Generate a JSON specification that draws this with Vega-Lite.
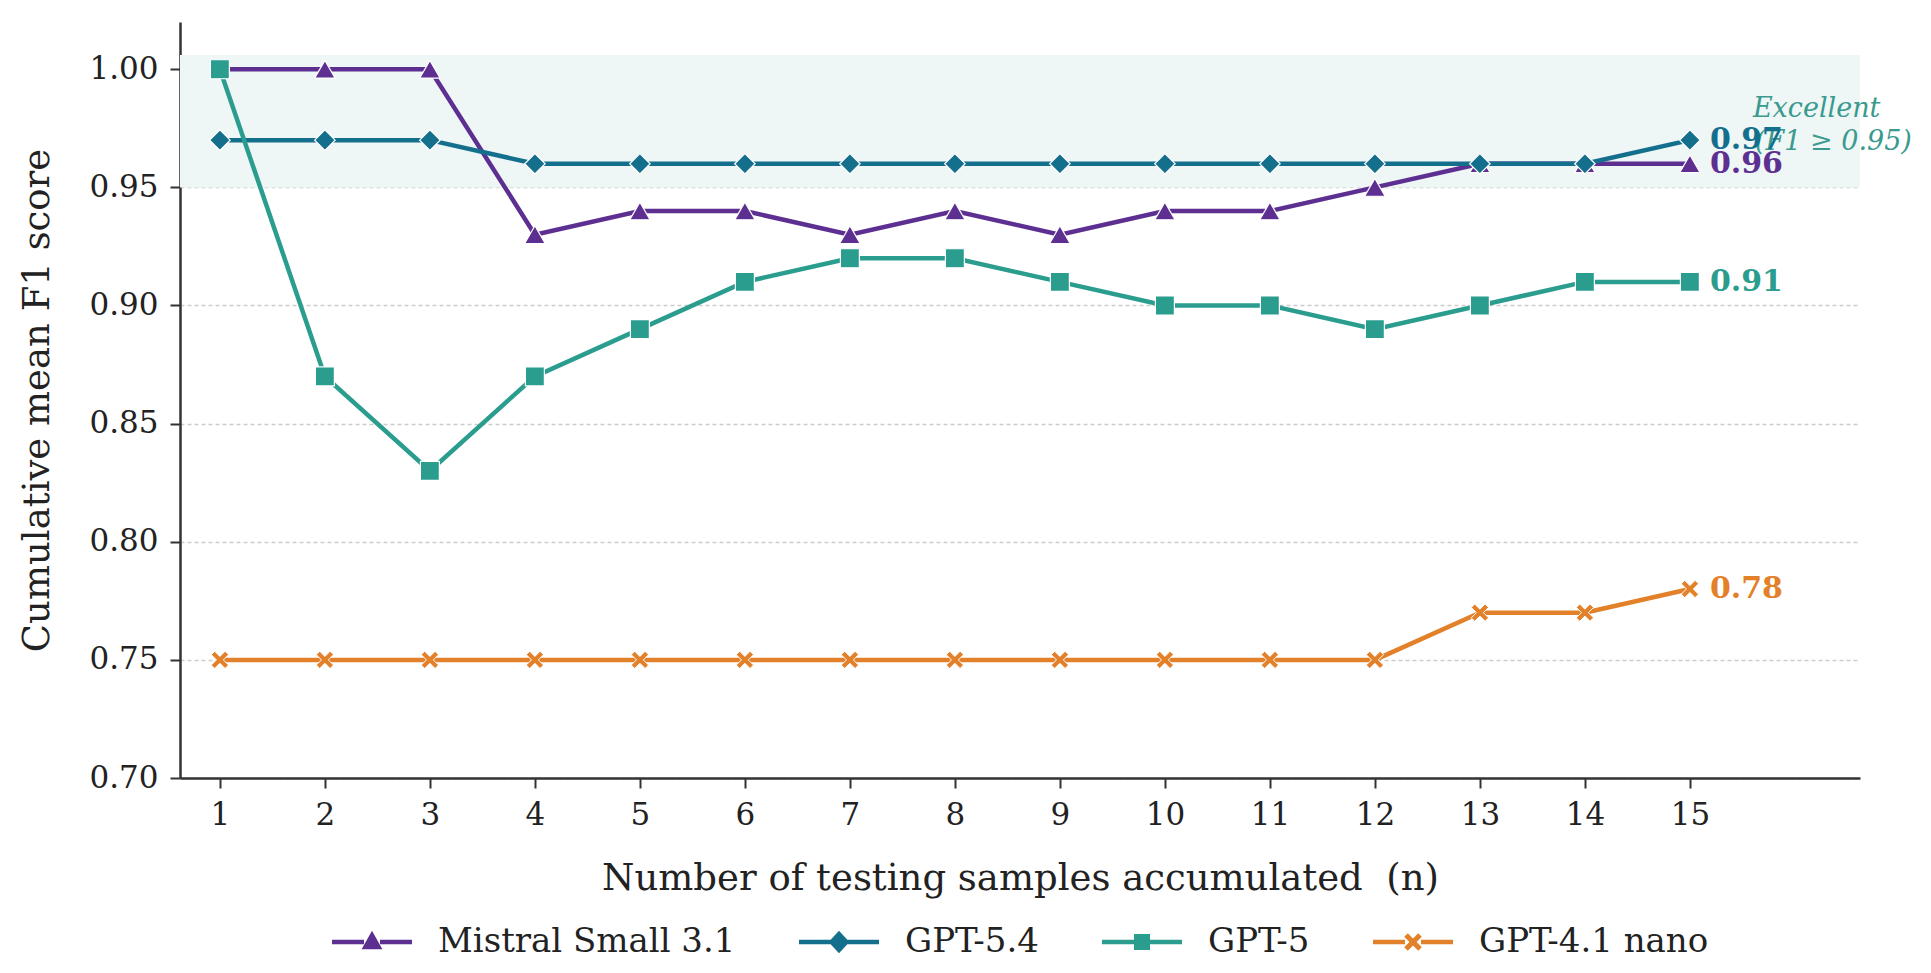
{
  "$schema": "https://vega.github.io/schema/vega-lite/v6.json",
  "width": 1680,
  "height": 756,
  "autosize": {"type": "none"},
  "padding": {"left": 180, "top": 22, "right": 71, "bottom": 195},
  "background": "white",
  "datasets": {
    "scores": [
      {"model": "Mistral Small 3.1", "n": 1, "f1": 1.00},
      {"model": "Mistral Small 3.1", "n": 2, "f1": 1.00},
      {"model": "Mistral Small 3.1", "n": 3, "f1": 1.00},
      {"model": "Mistral Small 3.1", "n": 4, "f1": 0.93},
      {"model": "Mistral Small 3.1", "n": 5, "f1": 0.94},
      {"model": "Mistral Small 3.1", "n": 6, "f1": 0.94},
      {"model": "Mistral Small 3.1", "n": 7, "f1": 0.93},
      {"model": "Mistral Small 3.1", "n": 8, "f1": 0.94},
      {"model": "Mistral Small 3.1", "n": 9, "f1": 0.93},
      {"model": "Mistral Small 3.1", "n": 10, "f1": 0.94},
      {"model": "Mistral Small 3.1", "n": 11, "f1": 0.94},
      {"model": "Mistral Small 3.1", "n": 12, "f1": 0.95},
      {"model": "Mistral Small 3.1", "n": 13, "f1": 0.96},
      {"model": "Mistral Small 3.1", "n": 14, "f1": 0.96},
      {"model": "Mistral Small 3.1", "n": 15, "f1": 0.96},
      {"model": "GPT-5.4", "n": 1, "f1": 0.97},
      {"model": "GPT-5.4", "n": 2, "f1": 0.97},
      {"model": "GPT-5.4", "n": 3, "f1": 0.97},
      {"model": "GPT-5.4", "n": 4, "f1": 0.96},
      {"model": "GPT-5.4", "n": 5, "f1": 0.96},
      {"model": "GPT-5.4", "n": 6, "f1": 0.96},
      {"model": "GPT-5.4", "n": 7, "f1": 0.96},
      {"model": "GPT-5.4", "n": 8, "f1": 0.96},
      {"model": "GPT-5.4", "n": 9, "f1": 0.96},
      {"model": "GPT-5.4", "n": 10, "f1": 0.96},
      {"model": "GPT-5.4", "n": 11, "f1": 0.96},
      {"model": "GPT-5.4", "n": 12, "f1": 0.96},
      {"model": "GPT-5.4", "n": 13, "f1": 0.96},
      {"model": "GPT-5.4", "n": 14, "f1": 0.96},
      {"model": "GPT-5.4", "n": 15, "f1": 0.97},
      {"model": "GPT-5", "n": 1, "f1": 1.00},
      {"model": "GPT-5", "n": 2, "f1": 0.87},
      {"model": "GPT-5", "n": 3, "f1": 0.83},
      {"model": "GPT-5", "n": 4, "f1": 0.87},
      {"model": "GPT-5", "n": 5, "f1": 0.89},
      {"model": "GPT-5", "n": 6, "f1": 0.91},
      {"model": "GPT-5", "n": 7, "f1": 0.92},
      {"model": "GPT-5", "n": 8, "f1": 0.92},
      {"model": "GPT-5", "n": 9, "f1": 0.91},
      {"model": "GPT-5", "n": 10, "f1": 0.90},
      {"model": "GPT-5", "n": 11, "f1": 0.90},
      {"model": "GPT-5", "n": 12, "f1": 0.89},
      {"model": "GPT-5", "n": 13, "f1": 0.90},
      {"model": "GPT-5", "n": 14, "f1": 0.91},
      {"model": "GPT-5", "n": 15, "f1": 0.91},
      {"model": "GPT-4.1 nano", "n": 1, "f1": 0.75},
      {"model": "GPT-4.1 nano", "n": 2, "f1": 0.75},
      {"model": "GPT-4.1 nano", "n": 3, "f1": 0.75},
      {"model": "GPT-4.1 nano", "n": 4, "f1": 0.75},
      {"model": "GPT-4.1 nano", "n": 5, "f1": 0.75},
      {"model": "GPT-4.1 nano", "n": 6, "f1": 0.75},
      {"model": "GPT-4.1 nano", "n": 7, "f1": 0.75},
      {"model": "GPT-4.1 nano", "n": 8, "f1": 0.75},
      {"model": "GPT-4.1 nano", "n": 9, "f1": 0.75},
      {"model": "GPT-4.1 nano", "n": 10, "f1": 0.75},
      {"model": "GPT-4.1 nano", "n": 11, "f1": 0.75},
      {"model": "GPT-4.1 nano", "n": 12, "f1": 0.75},
      {"model": "GPT-4.1 nano", "n": 13, "f1": 0.77},
      {"model": "GPT-4.1 nano", "n": 14, "f1": 0.77},
      {"model": "GPT-4.1 nano", "n": 15, "f1": 0.78}
    ],
    "band": [{"x0": 0.62, "x1": 16.62, "y0": 0.95, "y1": 1.006}],
    "note": [
      {"n": 15.6, "f1": 0.983, "label": "Excellent"},
      {"n": 15.62, "f1": 0.969, "label": "(F1 ≥ 0.95)"}
    ]
  },
  "layer": [
    {
      "data": {"name": "band"},
      "mark": {"type": "rect", "color": "#eef6f6"},
      "encoding": {
        "x": {"field": "x0", "type": "quantitative", "scale": {"domain": [0.62, 16.62], "nice": false, "zero": false}},
        "x2": {"field": "x1"},
        "y": {"field": "y0", "type": "quantitative", "scale": {"domain": [0.70, 1.02], "nice": false, "zero": false}},
        "y2": {"field": "y1"}
      }
    },
    {
      "data": {"name": "scores"},
      "mark": {"type": "line", "strokeWidth": 4.5},
      "encoding": {
        "x": {
          "field": "n",
          "type": "quantitative",
          "title": "Number of testing samples accumulated\u00a0 (n)",
          "axis": {"values": [1, 2, 3, 4, 5, 6, 7, 8, 9, 10, 11, 12, 13, 14, 15], "format": "d", "grid": false, "titlePadding": 30, "labelPadding": 12}
        },
        "y": {
          "field": "f1",
          "type": "quantitative",
          "title": "Cumulative mean F1 score",
          "axis": {"values": [0.70, 0.75, 0.80, 0.85, 0.90, 0.95, 1.00], "format": ".2f", "grid": true, "titlePadding": 32, "labelPadding": 12}
        },
        "color": {
          "field": "model",
          "type": "nominal",
          "scale": {
            "domain": ["Mistral Small 3.1", "GPT-5.4", "GPT-5", "GPT-4.1 nano"],
            "range": ["#5c2f91", "#146f8d", "#2a9d8f", "#e3812a"]
          },
          "legend": {
            "orient": "none",
            "legendX": 152,
            "legendY": 880,
            "direction": "horizontal",
            "title": null,
            "symbolSize": 6400,
            "labelFontSize": 34,
            "labelLimit": 0,
            "labelOffset": 26,
            "columnPadding": 63,
            "encode": {
              "symbols": {
                "update": {
                  "fill": {"scale": "color", "field": "value"},
                  "strokeWidth": {"value": 0},
                  "shape": {"signal": "datum.value === 'Mistral Small 3.1' ? 'M-1,-0.056H-0.2V0.056H-1Z M0.2,-0.056H1V0.056H0.2Z M0,-0.28L0.26,0.18L-0.26,0.18Z' : datum.value === 'GPT-5.4' ? 'M-1,-0.056H-0.2V0.056H-1Z M0.2,-0.056H1V0.056H0.2Z M0,-0.28L0.26,0L0,0.28L-0.26,0Z' : datum.value === 'GPT-5' ? 'M-1,-0.056H-0.2V0.056H-1Z M0.2,-0.056H1V0.056H0.2Z M-0.2,-0.2H0.2V0.2H-0.2Z' : 'M-1,-0.056H-0.2V0.056H-1Z M0.2,-0.056H1V0.056H0.2Z M-0.22,-0.13L-0.13,-0.22L0,-0.09L0.13,-0.22L0.22,-0.13L0.09,0L0.22,0.13L0.13,0.22L0,0.09L-0.13,0.22L-0.22,0.13L-0.09,0Z'"}
                }
              }
            }
          }
        }
      }
    },
    {
      "data": {"name": "scores"},
      "transform": [{"filter": "datum.model === 'Mistral Small 3.1'"}],
      "mark": {"type": "point", "filled": true, "opacity": 1, "shape": "triangle-up", "size": 420, "stroke": "white", "strokeWidth": 1.2, "color": "#5c2f91"},
      "encoding": {
        "x": {"field": "n", "type": "quantitative"},
        "y": {"field": "f1", "type": "quantitative"}
      }
    },
    {
      "data": {"name": "scores"},
      "transform": [{"filter": "datum.model === 'GPT-5.4'"}],
      "mark": {"type": "point", "filled": true, "opacity": 1, "shape": "M0,-1L1,0L0,1L-1,0Z", "size": 420, "stroke": "white", "strokeWidth": 1.2, "color": "#146f8d"},
      "encoding": {
        "x": {"field": "n", "type": "quantitative"},
        "y": {"field": "f1", "type": "quantitative"}
      }
    },
    {
      "data": {"name": "scores"},
      "transform": [{"filter": "datum.model === 'GPT-5'"}],
      "mark": {"type": "point", "filled": true, "opacity": 1, "shape": "square", "size": 360, "stroke": "white", "strokeWidth": 1.2, "color": "#2a9d8f"},
      "encoding": {
        "x": {"field": "n", "type": "quantitative"},
        "y": {"field": "f1", "type": "quantitative"}
      }
    },
    {
      "data": {"name": "scores"},
      "transform": [{"filter": "datum.model === 'GPT-4.1 nano'"}],
      "mark": {"type": "point", "filled": true, "opacity": 1, "shape": "M-1,-0.6L-0.6,-1L0,-0.4L0.6,-1L1,-0.6L0.4,0L1,0.6L0.6,1L0,0.4L-0.6,1L-1,0.6L-0.4,0Z", "size": 300, "stroke": "white", "strokeWidth": 1, "color": "#e3812a"},
      "encoding": {
        "x": {"field": "n", "type": "quantitative"},
        "y": {"field": "f1", "type": "quantitative"}
      }
    },
    {
      "data": {"name": "note"},
      "mark": {"type": "text", "align": "left", "baseline": "middle", "font": "DejaVu Serif", "fontStyle": "italic", "fontSize": 27, "color": "#3a9a8e"},
      "encoding": {
        "x": {"field": "n", "type": "quantitative"},
        "y": {"field": "f1", "type": "quantitative"},
        "text": {"field": "label"}
      }
    },
    {
      "data": {"name": "scores"},
      "transform": [{"filter": "datum.n === 15"}],
      "mark": {"type": "text", "align": "left", "baseline": "middle", "dx": 20, "font": "DejaVu Serif", "fontWeight": "bold", "fontSize": 30},
      "encoding": {
        "x": {"field": "n", "type": "quantitative"},
        "y": {"field": "f1", "type": "quantitative"},
        "text": {"field": "f1", "type": "quantitative", "format": ".2f"},
        "color": {"field": "model", "type": "nominal", "legend": null}
      }
    }
  ],
  "config": {
    "view": {"stroke": null},
    "font": "DejaVu Serif",
    "axis": {
      "labelFont": "DejaVu Serif",
      "titleFont": "DejaVu Serif",
      "labelFontSize": 31,
      "titleFontSize": 37,
      "titleFontWeight": "normal",
      "labelColor": "#222222",
      "titleColor": "#222222",
      "domainColor": "#333333",
      "domainWidth": 2.5,
      "tickColor": "#333333",
      "tickWidth": 2,
      "tickSize": 10,
      "gridColor": "#cccccc",
      "gridDash": [4, 3],
      "gridWidth": 1.5
    },
    "legend": {
      "labelFont": "DejaVu Serif",
      "labelColor": "#222222",
      "padding": 0
    }
  }
}
